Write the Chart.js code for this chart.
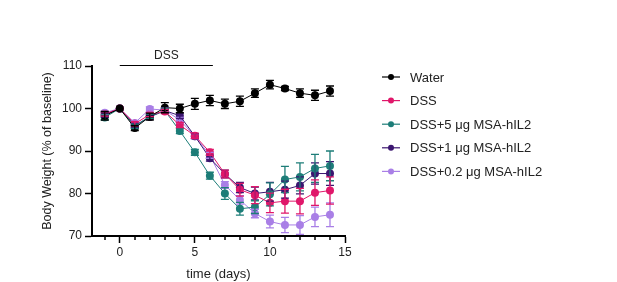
<!DOCTYPE html>
<html>
<head>
<meta charset="utf-8">
<script src="https://cdn.jsdelivr.net/npm/chart.js@4.4.1/dist/chart.umd.min.js"></script>
<style>
    html, body { margin: 0; padding: 0; background: #fff; }
    #wrap { width: 617px; height: 282px; }
</style>
</head>
<body>
<div id="wrap"><canvas id="chart" width="617" height="282"></canvas></div>
<script>
// Data
const days = [-1, 0, 1, 2, 3, 4, 5, 6, 7, 8, 9, 10, 11, 12, 13, 14];
const seriesNames = ['Water', 'DSS', 'DSS+5 μg MSA-hIL2', 'DSS+1 μg MSA-hIL2', 'DSS+0.2 μg MSA-hIL2'];
const seriesColors = ['#000000', '#e0176a', '#1d7d78', '#3b1670', '#a97fe6'];

const water = [98.3, 100, 95.4, 98.1, 100.2, 100, 101.1, 101.9, 101.1, 101.7, 103.6, 105.6, 104.7, 103.6, 103.1, 104.1];
const waterErr = [1, 0, 0.6, 0.8, 1.2, 1, 1.3, 1.2, 1.1, 1.2, 1, 1, 0.5, 1, 1.2, 1.2];

const dss = [98.7, 100, 96.4, 98.6, 99.3, 96.1, 93.6, 89.7, 84.6, 80.9, 79.6, 77.8, 78.2, 78.2, 80.2, 80.7];
const dssErr = [0.5, 0, 0.5, 0.5, 0.5, 0.6, 0.6, 0.7, 0.9, 1.5, 2, 2.3, 2.8, 3, 3, 3.2];

const dss5 = [97.9, 100, 95.8, 98.2, 99.5, 94.7, 89.7, 84.2, 80, 76.4, 76.8, 79.8, 83.3, 83.9, 85.9, 86.5];
const dss5Err = [0.6, 0, 0.5, 0.5, 0.5, 0.6, 0.7, 0.8, 1.4, 1.5, 1.5, 2.7, 3.1, 3.3, 3.3, 3.5];

const dss1 = [98.5, 100, 96, 98, 99.5, 98.3, 93.5, 88.3, 84.6, 81.4, 80, 80.4, 80.9, 81.9, 84.7, 84.7];
const dss1Err = [0.5, 0, 0.5, 0.5, 0.5, 0.6, 0.6, 0.7, 0.9, 1.2, 1.5, 2.2, 2, 2, 2.5, 2.8];

const dss02 = [99, 100, 96.6, 99.9, 99.6, 97.3, 93.5, 89, 82, 78.5, 75.3, 73.4, 72.6, 72.6, 74.5, 75];
const dss02Err = [0.4, 0, 0.5, 0.5, 0.5, 0.6, 0.6, 0.7, 0.8, 1, 1, 1.5, 1.8, 2.2, 2.3, 2.8];

const xTicks = [-1, 0, 1, 2, 3, 4, 5, 6, 7, 8, 9, 10, 11, 12, 13, 14, 15];
const yTicks = [70, 80, 90, 100, 110];
const dssPeriod = [0, 6.2];

const FONT = '"Liberation Sans", Arial, sans-serif';

const allValues = [water, dss, dss5, dss1, dss02];
const allErrors = [waterErr, dssErr, dss5Err, dss1Err, dss02Err];

const datasets = allValues.map((vals, i) => ({
    label: seriesNames[i],
    data: vals.map((v, j) => ({ x: days[j], y: v })),
    errors: allErrors[i],
    borderColor: seriesColors[i],
    backgroundColor: seriesColors[i],
    borderWidth: 1,
    pointRadius: 4,
    pointBorderWidth: 0,
    tension: 0,
    clip: false
}));

// error bars with caps
const errorBars = {
    id: 'errorBars',
    afterDatasetsDraw(chart) {
        const ctx = chart.ctx;
        const yScale = chart.scales.y;
        ctx.save();
        for (let i = chart.data.datasets.length - 1; i >= 0; i--) {
            const ds = chart.data.datasets[i];
            const meta = chart.getDatasetMeta(i);
            ctx.strokeStyle = ds.borderColor;
            ctx.lineWidth = 1.3;
            meta.data.forEach((pt, j) => {
                const e = ds.errors[j];
                if (!e) return;
                const v = ds.data[j].y;
                const yTop = yScale.getPixelForValue(v + e);
                const yBot = yScale.getPixelForValue(v - e);
                ctx.beginPath();
                ctx.moveTo(pt.x, yTop);
                ctx.lineTo(pt.x, yBot);
                ctx.moveTo(pt.x - 4, yTop);
                ctx.lineTo(pt.x + 4, yTop);
                ctx.moveTo(pt.x - 4, yBot);
                ctx.lineTo(pt.x + 4, yBot);
                ctx.stroke();
            });
        }
        ctx.restore();
    }
};

// DSS bar, minor ticks and legend
const extras = {
    id: 'extras',
    afterDraw(chart) {
        const ctx = chart.ctx;
        const xs = chart.scales.x;
        const area = chart.chartArea;
        ctx.save();

        // minor ticks on x
        ctx.strokeStyle = '#000';
        ctx.lineWidth = 1.5;
        xTicks.forEach(t => {
            if (t % 5 === 0) return;
            const px = Math.round(xs.getPixelForValue(t));
            ctx.beginPath();
            ctx.moveTo(px, area.bottom);
            ctx.lineTo(px, area.bottom + 4);
            ctx.stroke();
        });

        // DSS period bar
        const x0 = xs.getPixelForValue(dssPeriod[0]);
        const x1 = xs.getPixelForValue(dssPeriod[1]);
        ctx.lineWidth = 1;
        ctx.beginPath();
        ctx.moveTo(x0, area.top - 0.5);
        ctx.lineTo(x1, area.top - 0.5);
        ctx.stroke();
        ctx.fillStyle = '#222';
        ctx.font = '12px ' + FONT;
        ctx.textAlign = 'center';
        ctx.textBaseline = 'middle';
        ctx.fillText('DSS', (x0 + x1) / 2, area.top - 10);

        // legend
        ctx.font = '13px ' + FONT;
        ctx.textAlign = 'left';
        chart.data.datasets.forEach((ds, i) => {
            const y = 77 + i * 23.6;
            ctx.strokeStyle = ds.borderColor;
            ctx.lineWidth = 1.2;
            ctx.beginPath();
            ctx.moveTo(382, y);
            ctx.lineTo(400, y);
            ctx.stroke();
            ctx.fillStyle = ds.borderColor;
            ctx.beginPath();
            ctx.arc(391, y, 3, 0, Math.PI * 2);
            ctx.fill();
            ctx.fillStyle = '#222';
            ctx.fillText(ds.label, 410, y + 1);
        });
        ctx.restore();
    }
};

new Chart(document.getElementById('chart'), {
    type: 'line',
    data: { datasets },
    options: {
        responsive: false,
        animation: false,
        layout: { padding: { left: 40, top: 66, right: 272, bottom: 0 } },
        plugins: {
            legend: { display: false },
            tooltip: { enabled: false }
        },
        scales: {
            x: {
                type: 'linear',
                min: -1.85,
                max: 15,
                afterBuildTicks: scale => { scale.ticks = xTicks.filter(t => t % 5 === 0).map(v => ({ value: v })); },
                afterFit: scale => { scale.height = 46; },
                grid: {
                    drawOnChartArea: false,
                    drawTicks: true,
                    tickLength: 7,
                    tickWidth: 1.5,
                    tickColor: '#000'
                },
                border: { display: true, color: '#000', width: 2 },
                ticks: {
                    color: '#222',
                    font: { family: FONT, size: 12 },
                    padding: 2,
                    maxRotation: 0
                },
                title: {
                    display: true,
                    text: 'time (days)',
                    color: '#222',
                    font: { family: FONT, size: 13 },
                    padding: { top: 4, bottom: 0 }
                }
            },
            y: {
                min: 70,
                max: 110,
                afterBuildTicks: scale => { scale.ticks = yTicks.map(v => ({ value: v })); },
                afterFit: scale => { scale.width = 52; },
                grid: {
                    drawOnChartArea: false,
                    drawTicks: true,
                    tickLength: 7,
                    tickWidth: 1.5,
                    tickColor: '#000'
                },
                border: { display: true, color: '#000', width: 2 },
                ticks: {
                    color: '#222',
                    font: { family: FONT, size: 12 },
                    padding: 3
                },
                title: {
                    display: true,
                    text: 'Body Weight (% of baseline)',
                    color: '#222',
                    font: { family: FONT, size: 12.5 },
                    padding: { top: 0, bottom: 4 }
                }
            }
        }
    },
    plugins: [errorBars, extras]
});
</script>
</body>
</html>
